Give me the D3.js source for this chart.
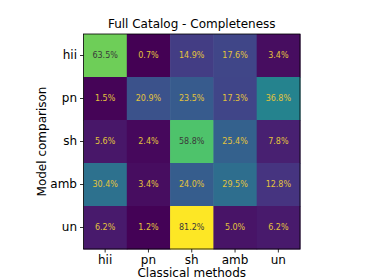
<!DOCTYPE html>
<html>
<head>
<meta charset="utf-8">
<script src="https://cdn.jsdelivr.net/npm/d3@7"></script>
<style>
  body { margin: 0; background: #fff; }
  svg text { font-family: "DejaVu Sans", sans-serif; }
</style>
</head>
<body>
<div id="chart"></div>
<script>
// Data
var classical = ['hii', 'pn', 'sh', 'amb', 'un'];
var models = ['hii', 'pn', 'sh', 'amb', 'un'];
var rowHii = [63.5, 0.7, 14.9, 17.6, 3.4];
var rowPn = [1.5, 20.9, 23.5, 17.3, 36.8];
var rowSh = [5.6, 2.4, 58.8, 25.4, 7.8];
var rowAmb = [30.4, 3.4, 24.0, 29.5, 12.8];
var rowUn = [6.2, 1.2, 81.2, 5.0, 6.2];
var rows = [rowHii, rowPn, rowSh, rowAmb, rowUn];

var width = 374;
var height = 280;
var plot = { left: 83.5, top: 34, right: 300, bottom: 249 };

var svg = d3.select('#chart').append('svg')
  .attr('width', width)
  .attr('height', height);

var x = d3.scaleBand().domain(classical).range([plot.left, plot.right]);
var y = d3.scaleBand().domain(models).range([plot.top, plot.bottom]);

var allValues = d3.merge(rows);
var color = d3.scaleSequential(d3.interpolateViridis)
  .domain(d3.extent(allValues));

var cells = [];
rows.forEach(function(r, i) {
  r.forEach(function(v, j) {
    cells.push({ row: models[i], col: classical[j], value: v });
  });
});

// heatmap cells
svg.selectAll('rect.cell')
  .data(cells)
  .enter().append('rect')
  .attr('class', 'cell')
  .attr('x', function(d) { return x(d.col); })
  .attr('y', function(d) { return y(d.row); })
  .attr('width', x.bandwidth() + 0.5)
  .attr('height', y.bandwidth() + 0.5)
  .attr('fill', function(d) { return color(d.value); });

// annotations
svg.selectAll('text.cell-label')
  .data(cells)
  .enter().append('text')
  .attr('class', 'cell-label')
  .attr('x', function(d) { return x(d.col) + x.bandwidth() / 2; })
  .attr('y', function(d) { return y(d.row) + y.bandwidth() / 2; })
  .attr('dy', '0.36em')
  .attr('text-anchor', 'middle')
  .style('font-size', '8px')
  .style('fill', function(d) { return d.value > 50 ? '#3a3a3a' : '#e3c33c'; })
  .text(function(d) { return d.value.toFixed(1) + '%'; });

// frame
svg.append('rect')
  .attr('x', plot.left)
  .attr('y', plot.top)
  .attr('width', plot.right - plot.left)
  .attr('height', plot.bottom - plot.top)
  .attr('fill', 'none')
  .attr('stroke', '#000')
  .attr('stroke-width', 0.8);

// axes
var xAxis = svg.append('g')
  .attr('transform', 'translate(0,' + plot.bottom + ')')
  .call(d3.axisBottom(x).tickSize(3.5).tickPadding(3));
var yAxis = svg.append('g')
  .attr('transform', 'translate(' + plot.left + ',0)')
  .call(d3.axisLeft(y).tickSize(3.5).tickPadding(3));

[xAxis, yAxis].forEach(function(a) {
  a.select('.domain').remove();
  a.selectAll('.tick line').attr('stroke', '#000').attr('stroke-width', 0.8);
  a.selectAll('.tick text')
    .style('font-size', '12px')
    .style('font-family', '"DejaVu Sans", sans-serif')
    .attr('fill', '#000');
});

// title and axis labels
svg.append('text')
  .attr('x', (plot.left + plot.right) / 2)
  .attr('y', 28)
  .attr('text-anchor', 'middle')
  .style('font-size', '12px')
  .text('Full Catalog - Completeness');

svg.append('text')
  .attr('x', (plot.left + plot.right) / 2)
  .attr('y', 277)
  .attr('text-anchor', 'middle')
  .style('font-size', '12px')
  .text('Classical methods');

svg.append('text')
  .attr('transform', 'translate(46,' + (plot.top + plot.bottom) / 2 + ') rotate(-90)')
  .attr('text-anchor', 'middle')
  .style('font-size', '12px')
  .text('Model comparison');
</script>
</body>
</html>
